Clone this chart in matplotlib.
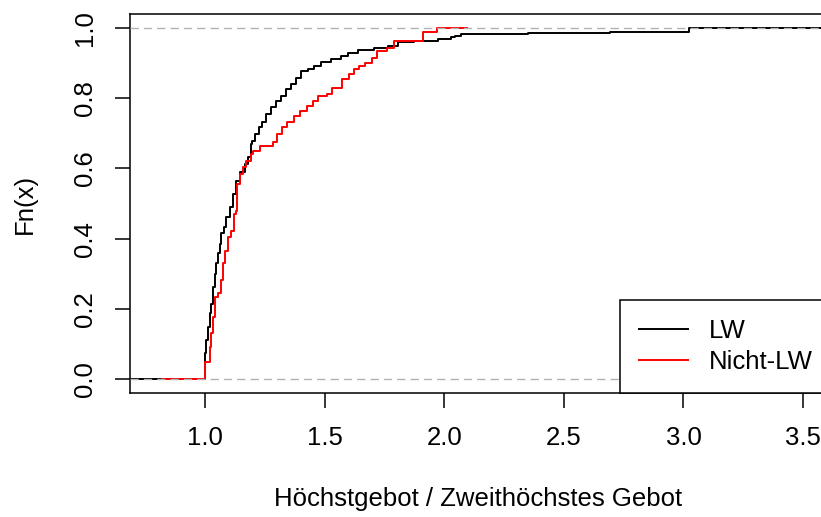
"""ECDF: Höchstgebot / Zweithöchstes Gebot, LW vs. Nicht-LW"""

import matplotlib
matplotlib.use("Agg")
import matplotlib.pyplot as plt

plt.rcParams["font.family"] = ["Liberation Sans", "DejaVu Sans"]
plt.rcParams["font.size"] = 18.5
plt.rcParams["lines.scale_dashes"] = False

# === Daten (Sprungstellen und Niveaus der empirischen Verteilungsfunktionen) ===
lw_x = [1.000, 1.006, 1.013, 1.020, 1.027, 1.033, 1.040, 1.047, 1.054, 1.061,
        1.068, 1.079, 1.089, 1.103, 1.117, 1.131, 1.145, 1.166, 1.180, 1.194,
        1.197, 1.211, 1.225, 1.239, 1.253, 1.274, 1.295, 1.316, 1.337, 1.358,
        1.379, 1.401, 1.429, 1.456, 1.484, 1.526, 1.568, 1.596, 1.638, 1.707,
        1.763, 1.805, 1.875, 1.972, 2.030, 2.045, 2.070, 2.352, 2.693, 3.023]
lw_y = [0.075, 0.110, 0.149, 0.187, 0.215, 0.262, 0.300, 0.330, 0.358, 0.386,
        0.415, 0.433, 0.461, 0.490, 0.528, 0.565, 0.589, 0.613, 0.632, 0.669,
        0.679, 0.698, 0.717, 0.731, 0.755, 0.774, 0.793, 0.807, 0.826, 0.840,
        0.859, 0.878, 0.882, 0.892, 0.903, 0.911, 0.920, 0.930, 0.938, 0.944,
        0.950, 0.959, 0.963, 0.970, 0.974, 0.978, 0.982, 0.986, 0.990, 1.000]

nlw_x = [1.000, 1.019, 1.026, 1.033, 1.043, 1.054, 1.065, 1.075, 1.085, 1.096,
         1.110, 1.121, 1.131, 1.135, 1.145, 1.159, 1.173, 1.194, 1.202, 1.230,
         1.286, 1.300, 1.321, 1.342, 1.370, 1.397, 1.425, 1.453, 1.474, 1.509,
         1.530, 1.572, 1.600, 1.621, 1.642, 1.670, 1.698, 1.719, 1.761, 1.788,
         1.913, 1.969]
nlw_y = [0.049, 0.092, 0.130, 0.177, 0.234, 0.244, 0.281, 0.330, 0.366, 0.404,
         0.423, 0.470, 0.480, 0.556, 0.584, 0.603, 0.622, 0.641, 0.650, 0.665,
         0.674, 0.698, 0.717, 0.731, 0.750, 0.764, 0.778, 0.793, 0.807, 0.811,
         0.830, 0.854, 0.868, 0.882, 0.892, 0.901, 0.916, 0.935, 0.944, 0.963,
         0.989, 1.000]

x_ticks = [1.0, 1.5, 2.0, 2.5, 3.0, 3.5]
y_ticks = [0.0, 0.2, 0.4, 0.6, 0.8, 1.0]

# Ausdehnung der horizontalen Endstücke
XLIM = (0.6865, 3.60)
NLW_RANGE = (0.82, 2.095)


def step_line(ax, xs, ys, x_from, x_to, color):
    px = [x_from] + xs + [x_to]
    py = [0.0] + ys + [ys[-1]]
    line, = ax.step(px, py, where="post", color=color, linewidth=1.4, zorder=2)
    return line


fig = plt.figure(figsize=(8.21, 5.17), dpi=100)
ax = fig.add_axes([130 / 821, 124 / 517, 697 / 821, 379 / 517])
ax.set_xlim(*XLIM)
ax.set_ylim(-0.04, 1.04)

l1 = step_line(ax, lw_x, lw_y, XLIM[0], XLIM[1], "black")
l2 = step_line(ax, nlw_x, nlw_y, NLW_RANGE[0], NLW_RANGE[1], "#FF0000")

# gestrichelte Hilfslinien bei 0 und 1
for h in (0, 1):
    ax.axhline(h, color="#B3B3B3", linewidth=1.0, linestyle=(0, (6.0, 3.6)), zorder=3)

for s in ax.spines.values():
    s.set_linewidth(1.1)
ax.set_xticks(x_ticks)
ax.set_yticks(y_ticks)
ax.set_xticklabels([f"{v:.1f}" for v in x_ticks])
ax.set_yticklabels([f"{v:.1f}" for v in y_ticks])
ax.tick_params(length=10.5, width=1.1, pad=13, colors="black")
for lab in ax.get_yticklabels():
    lab.set_rotation(90)
    lab.set_va("center")

ax.set_xlabel("Höchstgebot / Zweithöchstes Gebot", labelpad=27)
ax.set_ylabel("Fn(x)", labelpad=26)

leg = ax.legend([l1, l2], ["LW", "Nicht-LW"], loc="lower left",
                bbox_to_anchor=(490 / 697, 0, 207 / 697, 0.3), mode="expand",
                borderaxespad=0, fancybox=False, framealpha=1,
                edgecolor="black", handlelength=1.9, handletextpad=0.82,
                labelspacing=0.25, borderpad=0.75)
leg.get_frame().set_linewidth(1.1)
leg.set_zorder(5)

plt.savefig("out.png", dpi=100, facecolor="white")
plt.close()
